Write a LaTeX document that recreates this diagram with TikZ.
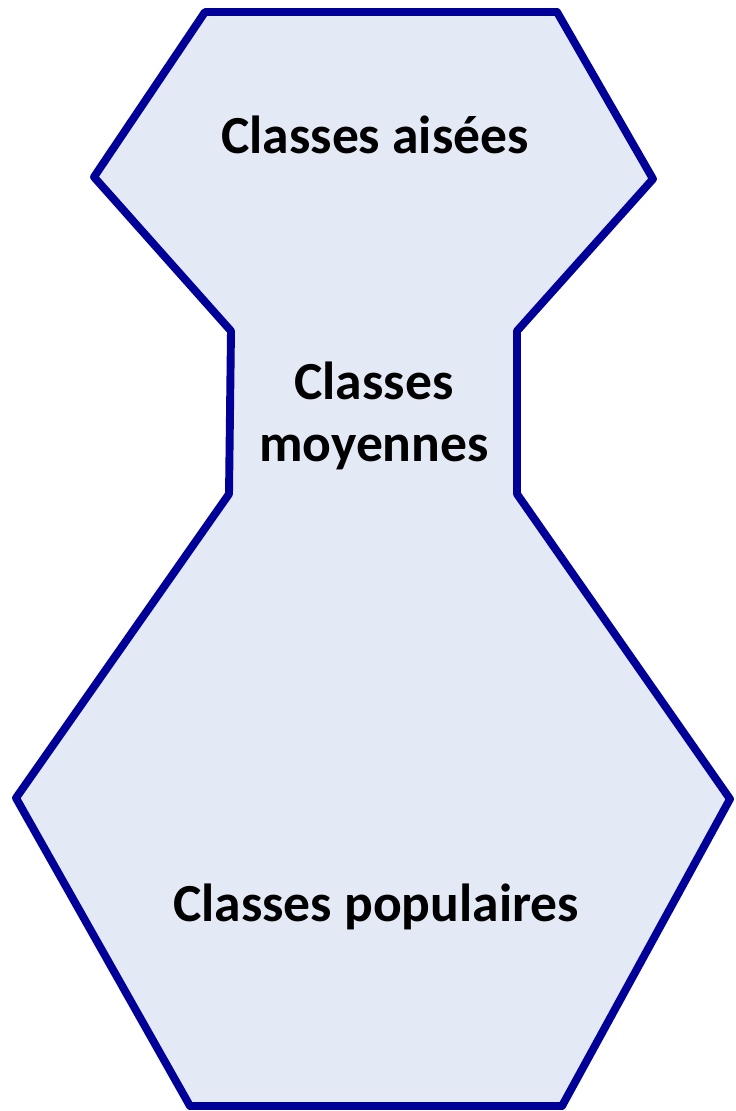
\documentclass[tikz,border=0pt]{standalone}
\usepackage{fontspec}
\setmainfont{Carlito}
\usetikzlibrary{positioning}
\definecolor{edgeblue}{RGB}{0,0,153}
\definecolor{paleblue}{RGB}{228,234,245}

\begin{document}
\begin{tikzpicture}[x=0.02cm, y=-0.02cm,
    label/.style={font=\bfseries\fontsize{30.5}{35}\selectfont, align=center, text=black}]
  \useasboundingbox (0,0) rectangle (736,1111);

  \draw[edgeblue, fill=paleblue, line width=4.5pt, line join=round]
    (205,12) -- (557,12) -- (653,179) -- (517,331) -- (517,494)
    -- (730,799) -- (562,1106) -- (190,1106) -- (16,798)
    -- (229,494) -- (231,331) -- (94,177) -- cycle;

  \node[label] (HI) at (375,135) {Classes aisées};
  \node[label] (MID) at (374,416) {Classes\\moyennes};
  \node[label] (LOW) at (376,907) {Classes populaires};
\end{tikzpicture}
\end{document}
